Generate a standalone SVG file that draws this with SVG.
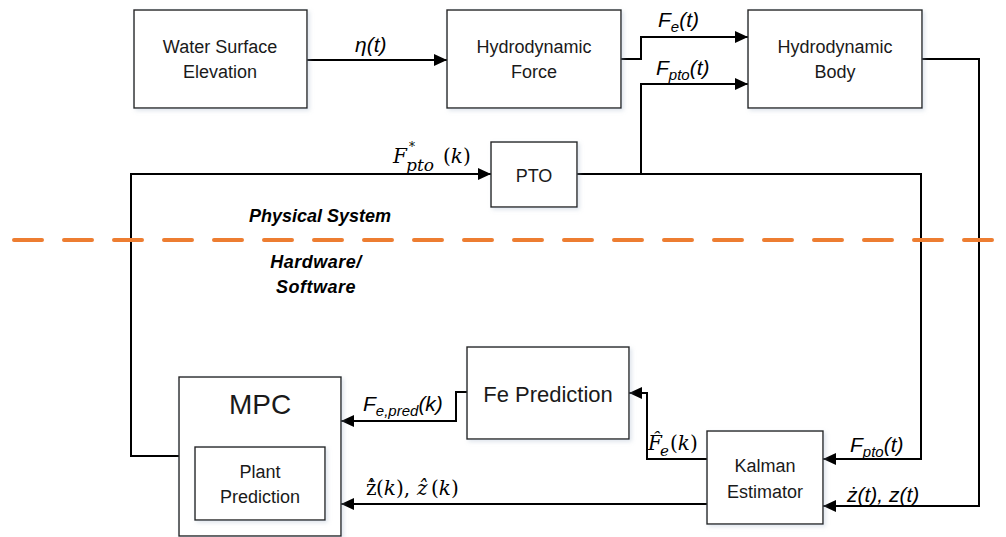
<svg xmlns="http://www.w3.org/2000/svg" width="1006" height="537" viewBox="0 0 1006 537">
<style>
.box{fill:#fff;stroke:#262626;stroke-width:1.4;filter:url(#sh)}
.wire{fill:none;stroke:#000;stroke-width:2}
.arr{marker-end:url(#ah)}
.lbl{font-family:"Liberation Sans",Arial,sans-serif;font-size:18px;fill:#1a1a1a;text-anchor:middle}
.it{font-family:"Liberation Sans",Arial,sans-serif;font-style:italic;font-size:21px;fill:#000}
.m{font-family:"DejaVu Serif","Liberation Serif",serif;font-size:20px;fill:#000}
.mi{font-style:italic}
.sec{font-family:"Liberation Sans",Arial,sans-serif;font-style:italic;font-weight:bold;font-size:18px;fill:#000;text-anchor:middle}
</style>
<defs>
<marker id="ah" markerUnits="userSpaceOnUse" markerWidth="14" markerHeight="12" refX="13" refY="6" orient="auto">
<path d="M0,0 L13,6 L0,12 z" fill="#000"/>
</marker>
<filter id="sh" x="-10%" y="-10%" width="130%" height="130%">
<feDropShadow dx="2" dy="2" stdDeviation="2" flood-color="#9fb0c8" flood-opacity="0.35"/>
</filter>
</defs>
<rect width="1006" height="537" fill="#fff"/>

<g id="connectors">
<path class="wire arr" d="M307,60 H447"/>
<path class="wire arr" d="M621,59 H641 V37 H748"/>
<path class="wire arr" d="M577,174 H921 V459 H823"/>
<path class="wire arr" d="M641,174 V84 H748"/>
<path class="wire arr" d="M179,456 H131 V174 H491"/>
<path class="wire arr" d="M922,59 H979 V506 H823"/>
<path class="wire arr" d="M707,459 H647 V393 H629"/>
<path class="wire arr" d="M467,392 H456 V421 H341"/>
<path class="wire arr" d="M707,504 H341"/>
</g>

<g id="divider">
<line x1="14" y1="240" x2="1006" y2="240" stroke="#ED7D31" stroke-width="4" stroke-linecap="round" stroke-dasharray="28 22"/>
<text class="sec" x="320" y="222">Physical System</text>
<text class="sec" x="316" y="268" letter-spacing="0.5">Hardware/</text>
<text class="sec" x="316" y="293" letter-spacing="0.5">Software</text>
</g>

<g id="water">
<rect class="box" x="134" y="10" width="173" height="98"/>
<text class="lbl" x="220" y="53">Water Surface</text>
<text class="lbl" x="220" y="78">Elevation</text>
</g>
<g id="hforce">
<rect class="box" x="447" y="10" width="174" height="98"/>
<text class="lbl" x="534" y="53">Hydrodynamic</text>
<text class="lbl" x="534" y="78">Force</text>
</g>
<g id="hbody">
<rect class="box" x="748" y="10" width="174" height="98"/>
<text class="lbl" x="835" y="53">Hydrodynamic</text>
<text class="lbl" x="835" y="78">Body</text>
</g>
<g id="pto">
<rect class="box" x="491" y="142" width="86" height="65"/>
<text class="lbl" x="534" y="182">PTO</text>
</g>
<g id="feprediction">
<rect class="box" x="467" y="347" width="162" height="92"/>
<text class="lbl" x="548" y="402" style="font-size:22px">Fe Prediction</text>
</g>
<g id="mpc">
<rect class="box" x="179" y="377" width="162" height="159"/>
<text class="lbl" x="260" y="414" style="font-size:28px">MPC</text>
<g id="plant">
<rect class="box" x="195" y="447" width="130" height="73"/>
<text class="lbl" x="260" y="478">Plant</text>
<text class="lbl" x="260" y="503">Prediction</text>
</g>
</g>
<g id="kalman">
<rect class="box" x="707" y="431" width="116" height="93"/>
<text class="lbl" x="765" y="472">Kalman</text>
<text class="lbl" x="765" y="498">Estimator</text>
</g>

<g id="labels">
<text class="it" x="355" y="52">η(t)</text>
<text class="it" x="658" y="27">F<tspan dy="5" font-size="15">e</tspan><tspan dy="-5">(t)</tspan></text>
<text class="it" x="656" y="75">F<tspan dy="5" font-size="15">pto</tspan><tspan dy="-5">(t)</tspan></text>
<text class="m" y="163"><tspan x="393" class="mi">F</tspan><tspan x="409" y="151" font-size="12">*</tspan><tspan x="406" y="171" font-size="17" class="mi">pto</tspan><tspan x="443" y="163">(</tspan><tspan class="mi">k</tspan><tspan>)</tspan></text>
<text class="it" x="363" y="411">F<tspan dy="5" font-size="15">e,pred</tspan><tspan dy="-5">(k)</tspan></text>
<text class="m" y="495"><tspan x="366">z&#x307;&#x302;</tspan><tspan x="376">(</tspan><tspan class="mi">k</tspan><tspan>),</tspan><tspan x="417" class="mi">z&#x302;</tspan><tspan x="431">(</tspan><tspan class="mi">k</tspan><tspan>)</tspan></text>
<text class="m" y="450"><tspan x="648" class="mi">F&#x302;</tspan><tspan x="660" y="456" font-size="15" class="mi">e</tspan><tspan x="670" y="450">(</tspan><tspan class="mi">k</tspan><tspan>)</tspan></text>
<text class="it" x="850" y="452">F<tspan dy="5" font-size="15">pto</tspan><tspan dy="-5">(t)</tspan></text>
<text class="it" x="847" y="502">ż(t), z(t)</text>
</g>
</svg>
